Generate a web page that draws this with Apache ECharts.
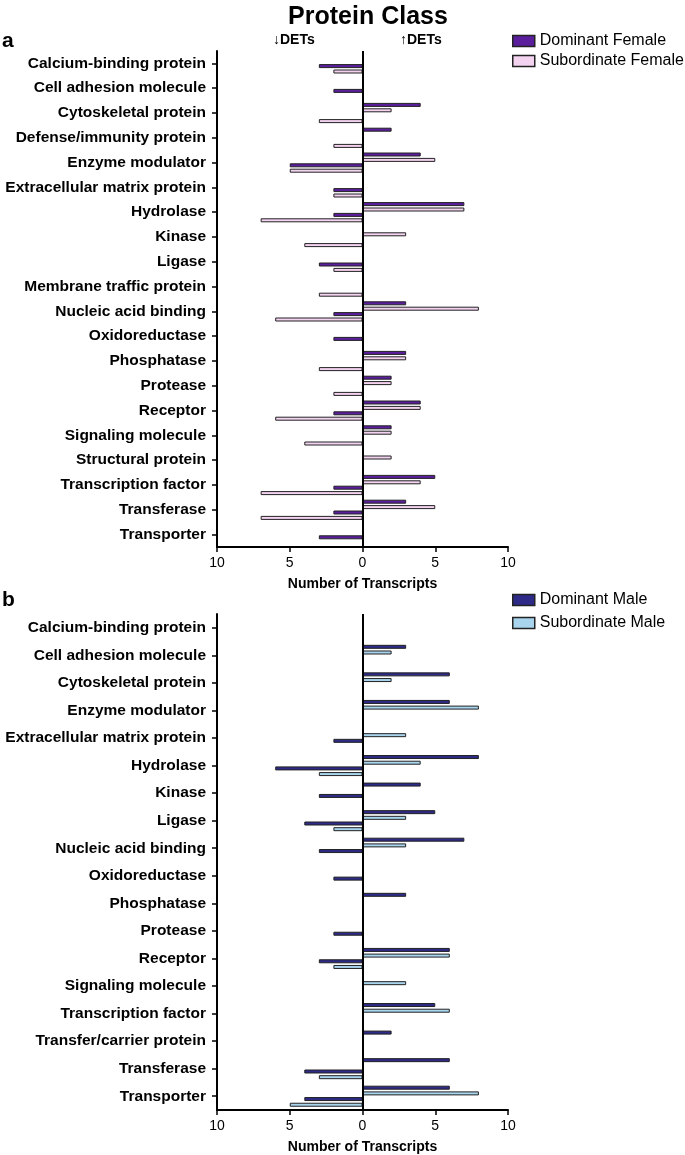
<!DOCTYPE html>
<html>
<head>
<meta charset="utf-8">
<script src="https://cdn.jsdelivr.net/npm/echarts@6/dist/echarts.min.js"></script>
<style>
html,body{margin:0;padding:0;background:#fff;}
#chart{width:685px;height:1155px;}
</style>
</head>
<body>
<div id="chart"></div>
<script>
const femaleCats = ['Calcium-binding protein','Cell adhesion molecule','Cytoskeletal protein','Defense/immunity protein','Enzyme modulator','Extracellular matrix protein','Hydrolase','Kinase','Ligase','Membrane traffic protein','Nucleic acid binding','Oxidoreductase','Phosphatase','Protease','Receptor','Signaling molecule','Structural protein','Transcription factor','Transferase','Transporter'];
const femaleDomUp   = [0,0,4,2,4,0,7,0,0,0,3,0,3,2,4,2,0,5,3,0];
const femaleSubUp   = [0,0,2,0,5,0,7,3,0,0,8,0,3,2,4,2,2,4,5,0];
const femaleDomDown = [3,2,0,0,5,2,2,0,3,0,2,2,0,0,2,0,0,2,2,3];
const femaleSubDown = [2,0,3,2,5,2,7,4,2,3,6,0,3,2,6,4,0,7,7,0];

const maleCats = ['Calcium-binding protein','Cell adhesion molecule','Cytoskeletal protein','Enzyme modulator','Extracellular matrix protein','Hydrolase','Kinase','Ligase','Nucleic acid binding','Oxidoreductase','Phosphatase','Protease','Receptor','Signaling molecule','Transcription factor','Transfer/carrier protein','Transferase','Transporter'];
const maleDomUp   = [0,3,6,6,0,8,4,5,7,0,3,0,6,0,5,2,6,6];
const maleSubUp   = [0,2,2,8,3,4,0,3,3,0,0,0,6,3,6,0,0,8];
const maleDomDown = [0,0,0,0,2,6,3,4,3,2,0,2,3,0,0,0,4,4];
const maleSubDown = [0,0,0,0,0,3,0,2,0,0,0,0,2,0,0,0,3,5];

const xTicks = [-10,-5,0,5,10];

const COL = {fd:'#5b1f9e', fs:'#f4d3f1', md:'#2e2b88', ms:'#a9d4ed'};
const FONT = '"Liberation Sans", Arial, Helvetica, sans-serif';

function up(arr){ return arr.map(v => v ? v : '-'); }
function down(arr){ return arr.map(v => v ? -v : '-'); }

function barSeries(name, data, color, idx, gap, withLine){
  const s = {
    name: name, type: 'bar', xAxisIndex: idx, yAxisIndex: idx,
    data: data, barWidth: 4, barGap: gap,
    itemStyle: {color: color, borderColor: '#222', borderWidth: 1},
    emphasis: {disabled: true}, animation: false, silent: true
  };
  if (withLine) {
    s.markLine = {
      silent: true, symbol: ['none','none'], label: {show: false},
      lineStyle: {color: '#000', width: 2, type: 'solid'},
      data: [{xAxis: 0}], animation: false
    };
  }
  return s;
}

function xAxis(idx){
  return {
    gridIndex: idx, type: 'value', min: -10, max: 10, interval: 5,
    axisLine: {show: true, onZero: false, lineStyle: {color: '#000', width: 2}},
    axisTick: {show: true, length: 5, lineStyle: {color: '#000', width: 1.5}},
    axisLabel: {fontFamily: FONT, fontSize: 14, color: '#000', margin: 9,
      formatter: v => xTicks.includes(v) ? String(Math.abs(v)) : ''},
    splitLine: {show: false},
    name: 'Number of Transcripts', nameLocation: 'middle', nameGap: 30,
    nameTextStyle: {fontFamily: FONT, fontSize: 14, fontWeight: 'bold', color: '#000'}
  };
}
function yAxis(idx, cats){
  return {
    gridIndex: idx, type: 'category', data: cats, inverse: true,
    axisLine: {show: true, onZero: false, lineStyle: {color: '#000', width: 2}},
    axisTick: {show: true, length: 5, alignWithLabel: true, lineStyle: {color: '#000', width: 1.5}},
    axisLabel: {fontFamily: FONT, fontSize: 15.5, fontWeight: 'bold', color: '#000', margin: 11, interval: 0},
    splitLine: {show: false}
  };
}

const chart = echarts.init(document.getElementById('chart'), null, {renderer: 'canvas'});
chart.setOption({
  animation: false,
  backgroundColor: '#fff',
  title: {text: 'Protein Class', left: 363, top: 0, textAlign: 'center',
    textStyle: {fontFamily: FONT, fontSize: 25, fontWeight: 'bold', color: '#000'}},
  grid: [
    {left: 217, width: 291, top: 51, height: 496},
    {left: 217, width: 291, top: 614, height: 496}
  ],
  xAxis: [xAxis(0), xAxis(1)],
  yAxis: [yAxis(0, femaleCats), yAxis(1, maleCats)],
  legend: [
    {data: ['Dominant Female','Subordinate Female'], orient: 'vertical', left: 507, top: 28,
     itemWidth: 22, itemHeight: 11, itemGap: 4, icon: 'rect', selectedMode: false,
     itemStyle: {borderColor: '#222', borderWidth: 1.5},
     textStyle: {fontFamily: FONT, fontSize: 16, color: '#000'}},
    {data: ['Dominant Male','Subordinate Male'], orient: 'vertical', left: 507, top: 587,
     itemWidth: 22, itemHeight: 11, itemGap: 7, icon: 'rect', selectedMode: false,
     itemStyle: {borderColor: '#222', borderWidth: 1.5},
     textStyle: {fontFamily: FONT, fontSize: 16, color: '#000'}}
  ],
  graphic: [
    {type: 'text', left: 2, top: 31, style: {text: 'a', font: 'bold 21px ' + FONT, fill: '#000'}},
    {type: 'text', left: 2, top: 590, style: {text: 'b', font: 'bold 21px ' + FONT, fill: '#000'}},
    {type: 'text', left: 273, top: 33, style: {text: '↓DETs', font: 'bold 14px ' + FONT, fill: '#000'}},
    {type: 'text', left: 400, top: 33, style: {text: '↑DETs', font: 'bold 14px ' + FONT, fill: '#000'}}
  ],
  series: [
    barSeries('Dominant Female', up(femaleDomUp), COL.fd, 0, '35%', true),
    barSeries('Subordinate Female', up(femaleSubUp), COL.fs, 0, '35%', false),
    barSeries('Dominant Female', down(femaleDomDown), COL.fd, 0, '35%', false),
    barSeries('Subordinate Female', down(femaleSubDown), COL.fs, 0, '35%', false),
    barSeries('Dominant Male', up(maleDomUp), COL.md, 1, '42%', true),
    barSeries('Subordinate Male', up(maleSubUp), COL.ms, 1, '42%', false),
    barSeries('Dominant Male', down(maleDomDown), COL.md, 1, '42%', false),
    barSeries('Subordinate Male', down(maleSubDown), COL.ms, 1, '42%', false)
  ]
});
</script>
</body>
</html>
